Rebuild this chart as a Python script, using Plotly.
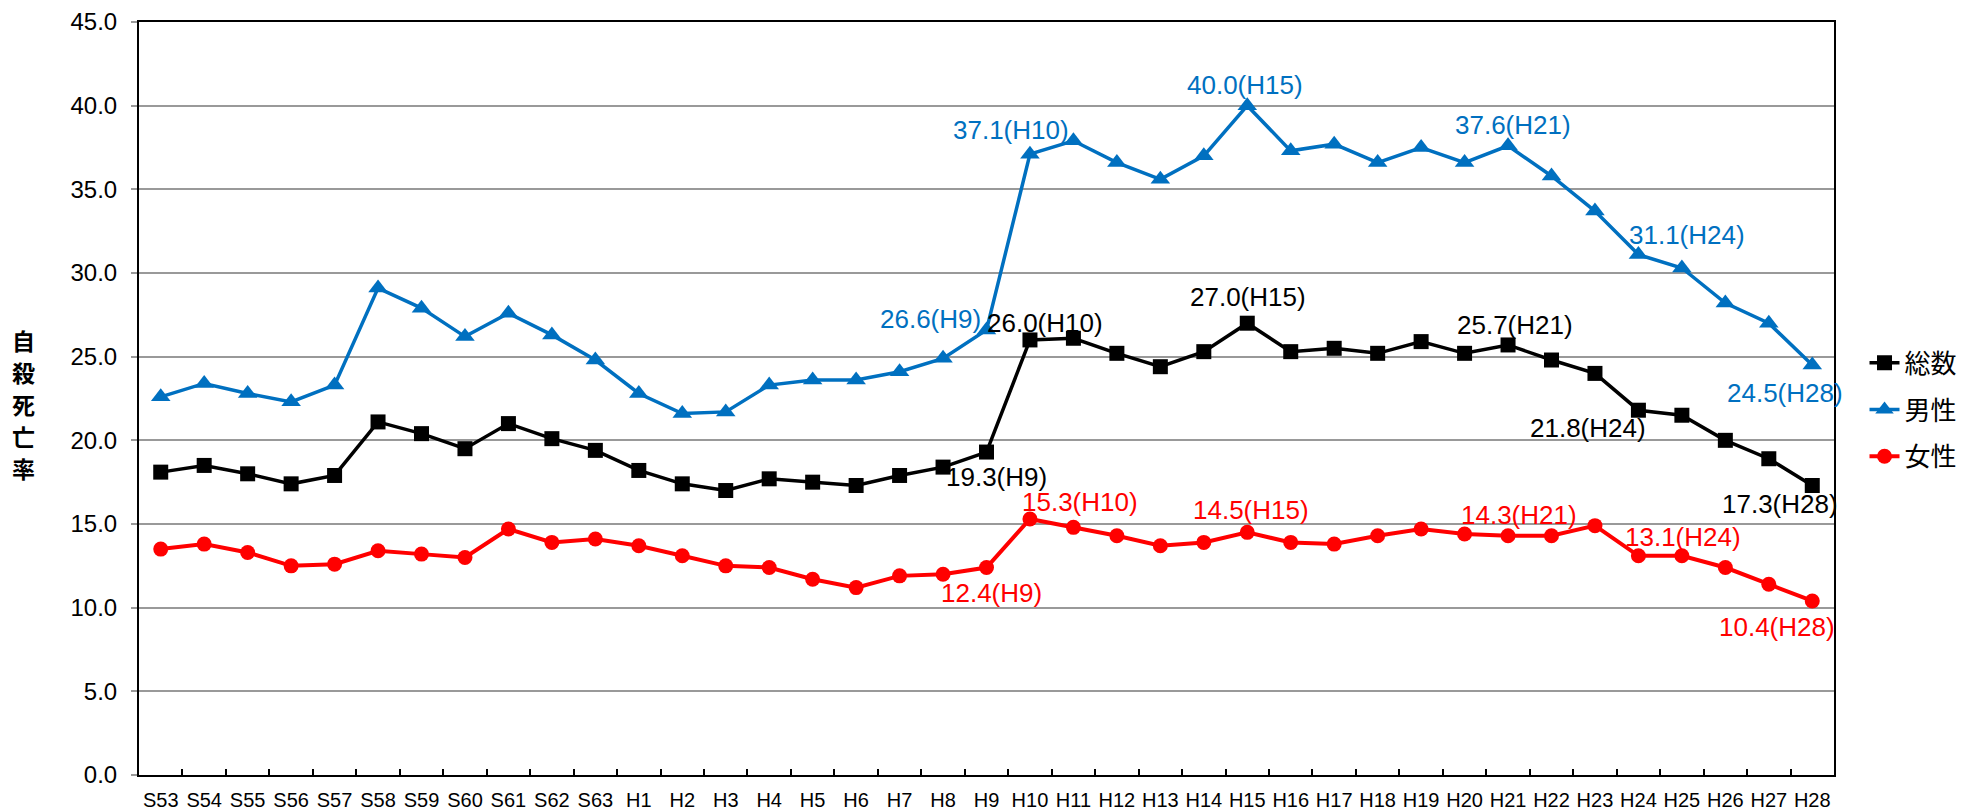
import plotly.graph_objects as go

categories = ["S53", "S54", "S55", "S56", "S57", "S58", "S59", "S60", "S61", "S62", "S63",
              "H1", "H2", "H3", "H4", "H5", "H6", "H7", "H8", "H9", "H10",
              "H11", "H12", "H13", "H14", "H15", "H16", "H17", "H18", "H19", "H20",
              "H21", "H22", "H23", "H24", "H25", "H26", "H27", "H28"]

total = [18.1, 18.5, 18.0, 17.4, 17.9, 21.1, 20.4, 19.5, 21.0, 20.1, 19.4,
         18.2, 17.4, 17.0, 17.7, 17.5, 17.3, 17.9, 18.4, 19.3, 26.0,
         26.1, 25.2, 24.4, 25.3, 27.0, 25.3, 25.5, 25.2, 25.9, 25.2,
         25.7, 24.8, 24.0, 21.8, 21.5, 20.0, 18.9, 17.3]

male = [22.6, 23.4, 22.8, 22.3, 23.3, 29.1, 27.9, 26.2, 27.6, 26.3, 24.8,
        22.8, 21.6, 21.7, 23.3, 23.6, 23.6, 24.1, 24.9, 26.6, 37.1,
        37.9, 36.6, 35.6, 37.0, 40.0, 37.3, 37.7, 36.6, 37.5, 36.6,
        37.6, 35.8, 33.7, 31.1, 30.3, 28.2, 27.0, 24.5]

female = [13.5, 13.8, 13.3, 12.5, 12.6, 13.4, 13.2, 13.0, 14.7, 13.9, 14.1,
          13.7, 13.1, 12.5, 12.4, 11.7, 11.2, 11.9, 12.0, 12.4, 15.3,
          14.8, 14.3, 13.7, 13.9, 14.5, 13.9, 13.8, 14.3, 14.7, 14.4,
          14.3, 14.3, 14.9, 13.1, 13.1, 12.4, 11.4, 10.4]

series_names = ["総数", "男性", "女性"]
y_ticks = [0, 5, 10, 15, 20, 25, 30, 35, 40, 45]
y_title_chars = ["自", "殺", "死", "亡", "率"]

total_label_cats = ["H9", "H10", "H15", "H21", "H24", "H28"]
male_label_cats = ["H9", "H10", "H15", "H21", "H24", "H28"]
female_label_cats = ["H9", "H10", "H15", "H21", "H24", "H28"]

# styling: pixel offsets (dx, dy-down) of label centers relative to the points
total_offsets = {"H9": (10, 25), "H10": (15, -17), "H15": (1, -26),
                 "H21": (7, -20), "H24": (-50, 18), "H28": (-32, 18)}
male_offsets = {"H9": (-56, -11), "H10": (-19, -24), "H15": (-2, -21),
                "H21": (5, -21), "H24": (49, -20), "H28": (-27, 28)}
female_offsets = {"H9": (5, 25), "H10": (50, -17), "H15": (4, -22),
                  "H21": (11, -21), "H24": (45, -19), "H28": (-35, 26)}

BLACK = "#000000"
BLUE = "#0070C0"
RED = "#FF0000"
FONT = "Liberation Sans, Arial, sans-serif"
CJK = "Noto Sans CJK JP, sans-serif"

fig = go.Figure()
fig.add_trace(go.Scatter(x=categories, y=total, name=series_names[0], mode="lines+markers",
                         line=dict(color=BLACK, width=3.5),
                         marker=dict(symbol="square", size=15, color=BLACK),
                         legendgroup="a"))
fig.add_trace(go.Scatter(x=categories, y=male, name=series_names[1], mode="lines+markers",
                         line=dict(color=BLUE, width=3.5),
                         marker=dict(symbol="triangle-up", size=17, color=BLUE),
                         legendgroup="b"))
fig.add_trace(go.Scatter(x=categories, y=female, name=series_names[2], mode="lines+markers",
                         line=dict(color=RED, width=4),
                         marker=dict(symbol="circle", size=15, color=RED),
                         legendgroup="c"))

annotations = []
for vals, cats, offs, col in [(total, total_label_cats, total_offsets, BLACK),
                              (male, male_label_cats, male_offsets, BLUE),
                              (female, female_label_cats, female_offsets, RED)]:
    for c in cats:
        i = categories.index(c)
        dx, dy = offs[c]
        annotations.append(dict(x=c, y=vals[i], xref="x", yref="y",
                                text=f"{vals[i]:.1f}({c})", showarrow=False,
                                xshift=dx, yshift=-dy,
                                font=dict(family=FONT, size=26, color=col)))

# vertical y-axis title, one character per line (centres at 340..468 px)
for k, ch in enumerate(y_title_chars):
    ypix = 340 + 32 * k
    annotations.append(dict(x=-0.0684, y=(775 - ypix) / 753, xref="paper", yref="paper",
                            text=f"<b>{ch}</b>", showarrow=False,
                            font=dict(family=CJK, size=23, color="#000000"),
                            xanchor="center", yanchor="middle"))

fig.update_layout(
    width=1981, height=811,
    margin=dict(l=139, r=147, t=22, b=36),
    paper_bgcolor="white", plot_bgcolor="white",
    annotations=annotations,
    showlegend=True,
    legend=dict(x=1.018, y=0.485, xanchor="left", yanchor="middle",
                font=dict(family=CJK, size=26, color="#000000"),
                tracegroupgap=10, bgcolor="rgba(0,0,0,0)"),
    font=dict(family=FONT, color="#000000"),
)

fig.update_xaxes(type="category", range=[-0.5, len(categories) - 0.5],
                 showline=True, linecolor="black", linewidth=2, mirror=True,
                 ticks="inside", tickson="boundaries", ticklen=6, tickwidth=2, tickcolor="black",
                 showgrid=False, tickfont=dict(family=FONT, size=20, color="black"),
                 tickangle=0, automargin=False, ticklabelstandoff=6)
fig.update_yaxes(range=[0, 45], tickvals=y_ticks, tickformat=".1f",
                 showline=True, linecolor="black", linewidth=2, mirror=True,
                 ticks="outside", ticklen=6, tickwidth=2, tickcolor="#999999",
                 showgrid=True, gridcolor="#999999", gridwidth=2,
                 zeroline=False, automargin=False,
                 tickfont=dict(family=FONT, size=24, color="black"),
                 ticklabelstandoff=9)

fig.write_html("out.html", config={"displayModeBar": False},
               post_script="document.body.style.margin='0';document.body.style.overflow='hidden';")
